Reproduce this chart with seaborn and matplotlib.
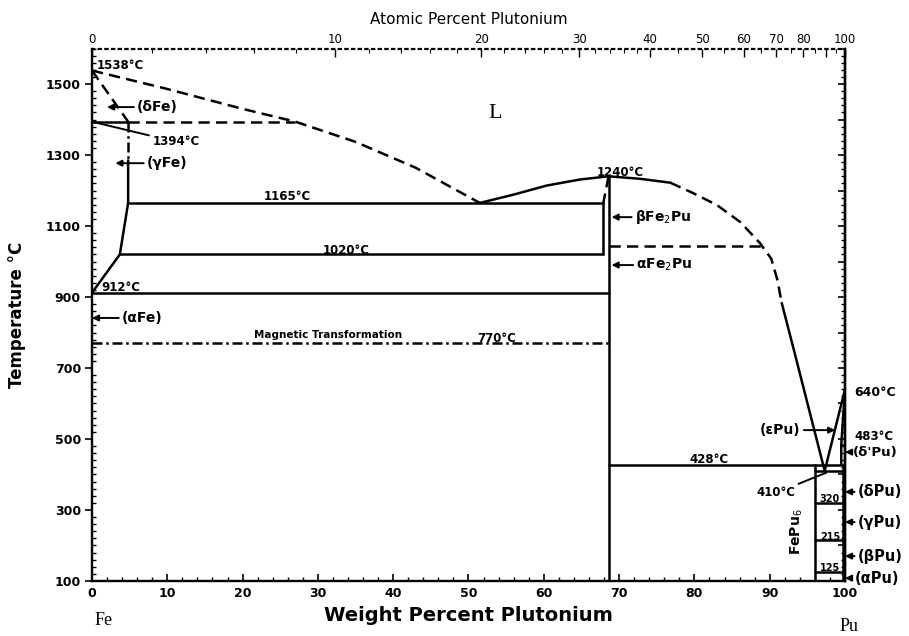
import numpy as np
import pandas as pd
import matplotlib
matplotlib.use("Agg")
import matplotlib.pyplot as plt
import seaborn as sns
from matplotlib.ticker import MultipleLocator, FixedLocator

# ---------------- data (x = weight % Pu, t = temperature °C) ----------------
wt_ticks = [0, 10, 20, 30, 40, 50, 60, 70, 80, 90, 100]
temp_ticks = [100, 300, 500, 700, 900, 1100, 1300, 1500]
at_ticks = [0, 10, 20, 30, 40, 50, 60, 70, 80, 90, 100]
at_labels = ["0", "10", "20", "30", "40", "50", "60", "70", "80", "", "100"]

liq_fe_x = [0, 10, 20, 27, 35, 43, 51.5]
liq_fe_t = [1538, 1486, 1430, 1394, 1337, 1264, 1165]
delta_x = [0, 4.8]
delta_t = [1538, 1394]
peri1394_x = [0, 4.8]
peri1394_t = [1394, 1394]
peri1394d_x = [4.8, 27]
peri1394d_t = [1394, 1394]
gamma_d_x = [4.8, 4.8]
gamma_d_t = [1394, 1285]
gamma_x = [4.8, 4.8, 3.7, 0]
gamma_t = [1285, 1165, 1020, 912]
eut1165_x = [4.8, 67.9]
eut1165_t = [1165, 1165]
iso1020_x = [3.7, 67.9]
iso1020_t = [1020, 1020]
iso912_x = [0, 68.6]
iso912_t = [912, 912]
mag770_x = [0, 68.6]
mag770_t = [770, 770]
liq_l_x = [51.5, 55.9, 60.4, 64.8, 68.6]
liq_l_t = [1165, 1188, 1214, 1231, 1240]
liq_r_x = [68.6, 72.8, 76.8]
liq_r_t = [1240, 1233, 1222]
liq_d_x = [76.8, 79.8, 83.0, 86.1, 88.7, 90.2, 91.0, 91.6]
liq_d_t = [1222, 1193, 1159, 1111, 1052, 1008, 950, 883]
liq_pu_x = [91.6, 93.4, 97.3]
liq_pu_t = [883, 735, 410]
eps_liq_x = [97.3, 100]
eps_liq_t = [410, 640]
eps_sol_x = [100, 99.5, 99.5]
eps_sol_t = [640, 483, 428]
pu_solv_x = [99.7, 99.7]
pu_solv_t = [428, 100]
fe2pu_x = [68.6, 68.6]
fe2pu_t = [1240, 100]
fe2pu_ld_x = [68.6, 67.9]
fe2pu_ld_t = [1240, 1165]
fe2pu_l_x = [67.9, 67.9]
fe2pu_l_t = [1165, 1020]
iso1043_x = [68.6, 89.1]
iso1043_t = [1043, 1043]
iso428_x = [68.6, 99.7]
iso428_t = [428, 428]
iso410_x = [96.0, 99.7]
iso410_t = [410, 410]
fepu6_x = [96.0, 96.0]
fepu6_t = [428, 100]
iso320_x = [96.0, 99.7]
iso320_t = [320, 320]
iso215_x = [96.0, 99.7]
iso215_t = [215, 215]
iso125_x = [96.0, 99.7]
iso125_t = [125, 125]
iso483_x = [99.5, 100]
iso483_t = [483, 483]

# ---------------- figure ----------------
sns.set_theme(style="white")
plt.rcParams["font.family"] = ["DejaVu Sans"]
plt.rcParams["text.color"] = "black"
plt.rcParams["axes.labelcolor"] = "black"
plt.rcParams["xtick.color"] = "black"
plt.rcParams["ytick.color"] = "black"
fig = plt.figure(figsize=(9.09, 6.36), dpi=100)
ax = fig.add_axes([0.1012, 0.0865, 0.8284, 0.8372])

SOLID = "-"
DASH = (0, (4.5, 2.5))
DOT = (0, (1, 2))
DASHDOT = (0, (4, 1.5, 1, 1.5))
LW = 1.8

segments = [
    (liq_fe_x, liq_fe_t, DASH),
    (delta_x, delta_t, DASH),
    (peri1394_x, peri1394_t, SOLID),
    (peri1394d_x, peri1394d_t, DASH),
    (gamma_d_x, gamma_d_t, DASHDOT),
    (gamma_x, gamma_t, SOLID),
    (eut1165_x, eut1165_t, SOLID),
    (iso1020_x, iso1020_t, SOLID),
    (iso912_x, iso912_t, SOLID),
    (mag770_x, mag770_t, DASHDOT),
    (liq_l_x, liq_l_t, SOLID),
    (liq_r_x, liq_r_t, SOLID),
    (liq_d_x, liq_d_t, DASH),
    (liq_pu_x, liq_pu_t, SOLID),
    (eps_liq_x, eps_liq_t, SOLID),
    (eps_sol_x, eps_sol_t, SOLID),
    (pu_solv_x, pu_solv_t, SOLID),
    (fe2pu_x, fe2pu_t, SOLID),
    (fe2pu_ld_x, fe2pu_ld_t, DASH),
    (fe2pu_l_x, fe2pu_l_t, SOLID),
    (iso1043_x, iso1043_t, DASH),
    (iso428_x, iso428_t, SOLID),
    (iso410_x, iso410_t, SOLID),
    (fepu6_x, fepu6_t, SOLID),
    (iso320_x, iso320_t, SOLID),
    (iso215_x, iso215_t, SOLID),
    (iso125_x, iso125_t, SOLID),
    (iso483_x, iso483_t, SOLID),
]
for xs, ts, ls in segments:
    sns.lineplot(x=xs, y=ts, sort=False, estimator=None, color="black",
                 linewidth=LW, linestyle=ls, ax=ax)

ax.set_xlim(0, 100)
ax.set_ylim(100, 1600)

# ---- axes styling ----
for s in ["left", "bottom", "right"]:
    ax.spines[s].set_color("black")
    ax.spines[s].set_linewidth(1.7)
ax.spines["top"].set_visible(False)

ax.xaxis.set_major_locator(FixedLocator(wt_ticks))
ax.xaxis.set_minor_locator(MultipleLocator(2))
ax.yaxis.set_major_locator(FixedLocator(temp_ticks))
ax.yaxis.set_minor_locator(MultipleLocator(20))
ax.set_xticklabels([str(v) for v in wt_ticks], fontweight="bold", fontsize=9)
ax.set_yticklabels([str(v) for v in temp_ticks], fontweight="bold", fontsize=9)
ax.tick_params(axis="x", which="major", direction="in", length=5, width=1.2,
               bottom=True, pad=4)
ax.tick_params(axis="x", which="minor", direction="in", length=3, width=1,
               bottom=True)
ax.tick_params(axis="y", which="major", direction="out", length=5, width=1.2,
               left=True, right=False, pad=3)
ax.tick_params(axis="y", which="minor", direction="in", length=3, width=1,
               left=True, right=False)

# right-hand tick marks (inward only, no labels)
ry = ax.secondary_yaxis("right")
ry.yaxis.set_major_locator(MultipleLocator(100))
ry.yaxis.set_minor_locator(MultipleLocator(20))
ry.tick_params(which="major", direction="in", length=5, width=1.2, labelright=False)
ry.tick_params(which="minor", direction="in", length=3, width=1)
ry.spines["right"].set_linewidth(1.7)
ry.spines["right"].set_color("black")


def wt2at(w):
    w = np.clip(np.asarray(w, dtype=float), 0, 100)
    a = w / 239.0
    b = (100 - w) / 55.85
    return 100 * a / np.maximum(a + b, 1e-12)


def at2wt(a):
    a = np.clip(np.asarray(a, dtype=float), 0, 100)
    p = a * 239.0
    q = (100 - a) * 55.85
    return 100 * p / np.maximum(p + q, 1e-12)


sec = ax.secondary_xaxis("top", functions=(wt2at, at2wt))
sec.xaxis.set_major_locator(FixedLocator(at_ticks))
sec.set_xticklabels(at_labels, fontsize=8.5)
sec.xaxis.set_minor_locator(FixedLocator([2, 4, 6, 8, 12, 14, 16, 18, 22, 24, 26, 28,
                                          32, 34, 36, 38, 45, 55, 65, 75, 85, 95]))
sec.tick_params(which="major", direction="in", length=6, width=1, pad=2)
sec.tick_params(which="minor", direction="in", length=3, width=0.8)
sec.spines["top"].set_linestyle(DOT)
sec.spines["top"].set_linewidth(1.6)
sec.spines["top"].set_color("black")
sec.set_xlabel("Atomic Percent Plutonium", fontsize=11, labelpad=6)

ax.set_ylabel("Temperature °C", fontsize=12, fontweight="bold", labelpad=14)
ax.set_xlabel("Weight Percent Plutonium", fontsize=14, fontweight="bold", labelpad=5)

# ---- labels ----
bold = dict(fontweight="bold", color="black")
ax.text(0.6, 1553, "1538°C", fontsize=8.5, va="center", **bold)
ax.text(53.6, 1418, "L", fontsize=16, family="Liberation Serif", ha="center",
        va="center", color="black")
ax.text(26.0, 1184, "1165°C", fontsize=8.5, ha="center", va="center", **bold)
ax.text(33.8, 1032, "1020°C", fontsize=8.5, ha="center", va="center", **bold)
ax.text(1.2, 928, "912°C", fontsize=8.5, va="center", **bold)
ax.text(70.1, 1252, "1240°C", fontsize=8.5, ha="center", va="center", **bold)
ax.text(31.3, 793, "Magnetic Transformation", fontsize=7.5, ha="center",
        va="center", **bold)
ax.text(53.7, 784, "770°C", fontsize=8.5, ha="center", va="center", **bold)
ax.text(81.9, 441, "428°C", fontsize=8.5, ha="center", va="center", **bold)
ax.text(98.0, 331, "320", fontsize=7, ha="center", va="center", **bold)
ax.text(98.0, 224, "215", fontsize=7, ha="center", va="center", **bold)
ax.text(98.0, 137, "125", fontsize=7, ha="center", va="center", **bold)
ax.text(93.6, 238, "FePu$_6$", fontsize=10, rotation=90, ha="center",
        va="center", **bold)
ax.text(101.2, 632, "640°C", fontsize=9, va="center", clip_on=False, **bold)
ax.text(101.2, 506, "483°C", fontsize=8.5, va="center", clip_on=False, **bold)

arrow = dict(arrowstyle="-|>", color="black", lw=1.4, mutation_scale=9,
             shrinkA=0, shrinkB=0)
line = dict(arrowstyle="-", color="black", lw=1.4, shrinkA=0, shrinkB=0)


def lab(text, xy, xytext, ha="left", props=arrow, size=10):
    ax.annotate(text, xy=xy, xytext=xytext, ha=ha, va="center", fontsize=size,
                arrowprops=props, annotation_clip=False, **bold)


lab("(δFe)", (2.0, 1435), (6.0, 1435))
lab("(γFe)", (3.1, 1277), (7.3, 1277))
lab("1394°C", (0, 1394), (8.0, 1337), props=line, size=8.5)
lab("(αFe)", (0, 841), (4.0, 841))
lab("βFe$_2$Pu", (69.0, 1125), (72.1, 1125))
lab("αFe$_2$Pu", (69.0, 990), (72.3, 990))
lab("(εPu)", (98.7, 525), (88.7, 525), ha="left")
lab("410°C", (97.5, 405), (93.4, 348), ha="right", props=line, size=8.5)
lab("(δ'Pu)", (100, 463), (101.0, 463), size=9.5)
lab("(δPu)", (100, 351), (101.7, 351), size=10.5)
lab("(γPu)", (100, 266), (101.7, 266), size=10.5)
lab("(βPu)", (100, 170), (101.7, 170), size=10.5)
lab("(αPu)", (100, 108), (101.3, 108), size=10.5)

ax.text(1.5, -0.075, "Fe", transform=ax.get_xaxis_transform(), fontsize=13,
        family="Liberation Serif", ha="center", va="center", color="black")
ax.text(100.5, -0.085, "Pu", transform=ax.get_xaxis_transform(), fontsize=13,
        family="Liberation Serif", ha="center", va="center", color="black")

fig.savefig("out.png", dpi=100, facecolor="white")
